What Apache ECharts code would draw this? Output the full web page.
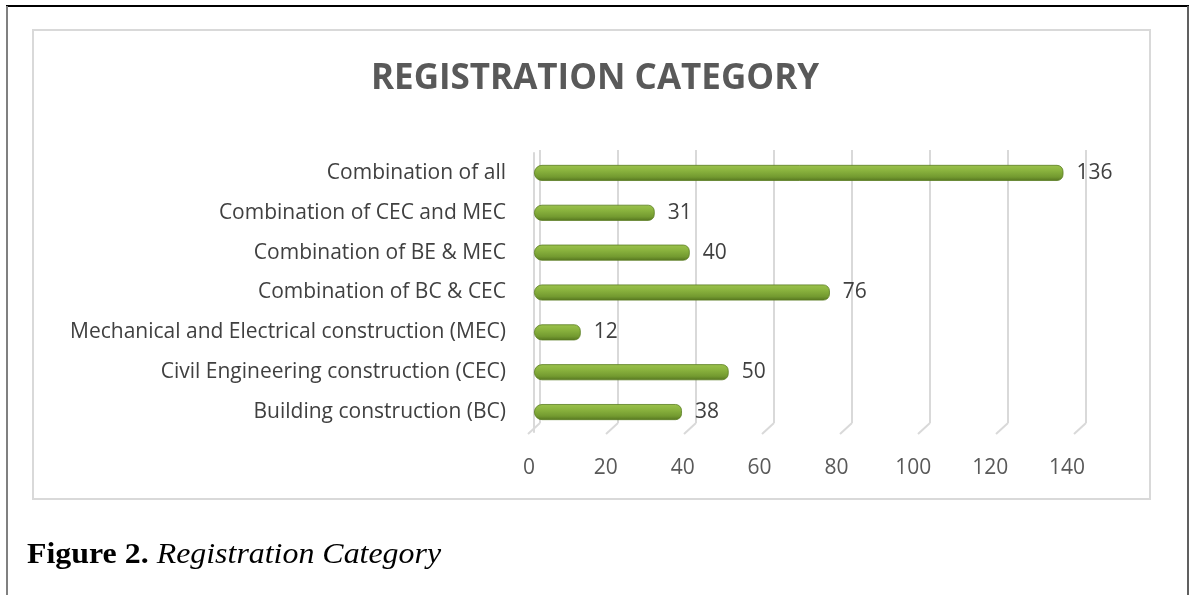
<!DOCTYPE html>
<html><head><meta charset="utf-8">
<script src="https://cdn.jsdelivr.net/npm/echarts@6/dist/echarts.min.js"></script>
<style>html,body{margin:0;padding:0;background:#fff}#c{width:1190px;height:595px}</style>
</head><body><div id="c"></div>
<script>
const categories = ["Building construction (BC)","Civil Engineering construction (CEC)","Mechanical and Electrical construction (MEC)","Combination of BC & CEC","Combination of BE & MEC","Combination of CEC and MEC","Combination of all"];
const values = [38,50,12,76,40,31,136];
const ticks = [0,20,40,60,80,100,120,140];
const titleText = "REGISTRATION CATEGORY";

const chart = echarts.init(document.getElementById('c'));
const fontCat = "'Open Sans', 'Noto Sans', sans-serif";
const green = new echarts.graphic.LinearGradient(0,0,0,1,[
  {offset:0,color:'#9cc24d'},{offset:0.35,color:'#8ab33e'},{offset:0.75,color:'#739a30'},{offset:1,color:'#55751f'}]);
chart.setOption({
  animation:false,
  graphic:[
    {type:'rect',shape:{x:33,y:30,width:1117,height:469},style:{fill:'none',stroke:'#d9d9d9',lineWidth:2}},
    {type:'line',shape:{x1:6,y1:6,x2:1189,y2:6},style:{stroke:'#000',lineWidth:2}},
    {type:'line',shape:{x1:7,y1:6,x2:7,y2:595},style:{stroke:'#808080',lineWidth:2}},
    {type:'line',shape:{x1:1188,y1:6,x2:1188,y2:595},style:{stroke:'#606060',lineWidth:2}},
    {type:'text',x:27,y:541,scaleX:1.1,style:{text:'{b|Figure 2. }{i|Registration Category}',rich:{
      b:{fontFamily:"'Liberation Serif', serif",fontWeight:'bold',fontSize:29,fill:'#000'},
      i:{fontFamily:"'Liberation Serif', serif",fontStyle:'italic',fontSize:29,fill:'#000'}}}}
  ],
  title:{text:titleText,left:'center',top:57,textStyle:{fontFamily:fontCat,fontWeight:'bold',fontSize:35,color:'#595959'}},
  grid:[
    {left:534,top:153,width:545,height:279},
    {left:540,top:150,width:546,height:273},
    {left:529,top:153,width:538,height:279}
  ],
  xAxis:[
    {gridIndex:0,type:'value',min:0,max:140,interval:20,show:false},
    {gridIndex:1,type:'value',min:0,max:140,interval:20,splitLine:{show:true,lineStyle:{color:'#d9d9d9',width:2}},axisLine:{show:false},axisTick:{show:false},axisLabel:{show:false}},
    {gridIndex:2,type:'value',min:0,max:140,interval:20,splitLine:{show:false},axisLine:{show:false},axisTick:{show:false},
     axisLabel:{margin:26,fontFamily:fontCat,fontSize:21,color:'#595959'}}
  ],
  yAxis:[
    {gridIndex:0,type:'category',data:categories,offset:8,axisLine:{show:true,lineStyle:{color:'#d9d9d9',width:2}},axisTick:{show:false},
     axisLabel:{margin:20,fontFamily:fontCat,fontSize:21,color:'#404040'}},
    {gridIndex:1,type:'value',min:0,max:1,show:false},
    {gridIndex:2,type:'value',min:0,max:1,show:false}
  ],
  series:[
    {type:'custom',xAxisIndex:1,yAxisIndex:1,silent:true,data:ticks.map(t=>[t,0]),
     renderItem:function(params,api){
       const p=api.coord([api.value(0),0]);
       return {type:'line',shape:{x1:p[0],y1:p[1],x2:p[0]-12,y2:p[1]+11},style:{stroke:'#d9d9d9',lineWidth:2}};
     }},
    {type:'bar',xAxisIndex:0,yAxisIndex:0,data:values,barWidth:16,
     itemStyle:{color:green,borderRadius:[8,6,6,8],borderColor:'#5b7d22',borderWidth:0.8},
     label:{show:true,position:'right',distance:13,fontFamily:fontCat,fontSize:21,color:'#404040'}}
  ]
});
</script></body></html>
